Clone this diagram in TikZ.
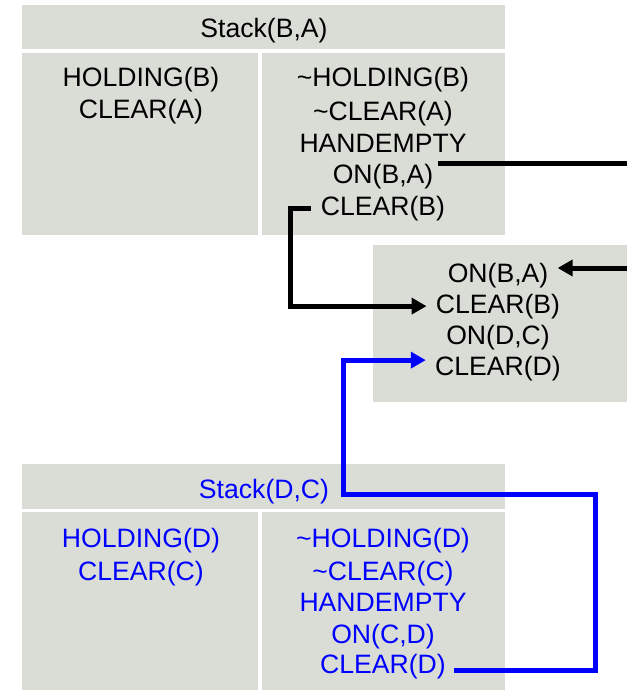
\documentclass[tikz,border=0pt]{standalone}
\usepackage{fontspec}
\setmainfont{Liberation Sans}
\usetikzlibrary{arrows.meta}
\definecolor{cellgray}{RGB}{218,221,214}
\definecolor{planblue}{RGB}{0,0,255}

\begin{document}
\begin{tikzpicture}[
    x=0.5pt, y=-0.5pt,
    box/.style={fill=cellgray, inner sep=0pt},
    fact/.style={anchor=base, inner sep=2pt, font=\fontsize{13.3}{15.75}\selectfont},
    bfact/.style={fact, text=planblue},
    wire/.style={line width=2.5pt},
    link/.style={line width=2.5pt, shorten >=2.5pt,
        -{Triangle[length=7.5pt, width=8pt]}}
]
\useasboundingbox (0,0) rectangle (627,690);
% Stack(B,A)
\node[box, minimum width=241.5pt, minimum height=22pt]  (hdrBA) at (263.5,27)  {};
\node[box, minimum width=118pt,   minimum height=91pt]  (preBA) at (140,144)   {};
\node[box, minimum width=121.5pt, minimum height=91pt]  (effBA) at (383.5,144) {};
\node[fact]  (stackBA) at (264,38)  {Stack(B,A)};
\node[fact]  (holdB)   at (141,87)  {HOLDING(B)};
\node[fact]  (clrA)    at (141,119) {CLEAR(A)};
\node[fact]  (nholdB)  at (383,87)  {\textasciitilde HOLDING(B)};
\node[fact]  (nclrA)   at (383,120) {\textasciitilde CLEAR(A)};
\node[fact]  (hempA)   at (383,152) {HANDEMPTY};
\node[fact]  (onBA)    at (383,183) {ON(B,A)};
\node[fact]  (clrB)    at (383,215) {CLEAR(B)};
% Goal
\node[box, minimum width=127pt, minimum height=78.5pt] (goal) at (500,323.5) {};
\node[fact]  (gonBA)   at (498,282) {ON(B,A)};
\node[fact]  (gclrB)   at (498,313) {CLEAR(B)};
\node[fact]  (gonDC)   at (498,344) {ON(D,C)};
\node[fact]  (gclrD)   at (498,375) {CLEAR(D)};
% Stack(D,C)
\node[box, minimum width=241.5pt, minimum height=22.5pt] (hdrDC) at (263.5,486.5) {};
\node[box, minimum width=118pt,   minimum height=89pt]   (preDC) at (140,601)     {};
\node[box, minimum width=121.5pt, minimum height=89pt]   (effDC) at (383.5,601)   {};
\node[bfact] (stackDC) at (264,498) {Stack(D,C)};
\node[bfact] (holdD)   at (141,547) {HOLDING(D)};
\node[bfact] (clrC)    at (141,580) {CLEAR(C)};
\node[bfact] (nholdD)  at (383,547) {\textasciitilde HOLDING(D)};
\node[bfact] (nclrC)   at (383,580) {\textasciitilde CLEAR(C)};
\node[bfact] (hempC)   at (383,611) {HANDEMPTY};
\node[bfact] (onCD)    at (383,643) {ON(C,D)};
\node[bfact] (clrD)    at (383,673) {CLEAR(D)};
% ON(B,A) links
\coordinate (outBA) at (627,163);
\coordinate (inBA)  at (627,268);
\draw[wire] (onBA.east |- outBA) -- (outBA);
\draw[link] (inBA) -- (gonBA.east |- inBA);
% CLEAR(B) link
\draw[link, shorten <=3pt] (clrB.west) -- ++(-26,0) |- (gclrB.west);
% CLEAR(D) link
\coordinate (bendR) at (595,494);
\coordinate (bendL) at (343,494);
\draw[link, draw=planblue, shorten <=2pt] ([yshift=-2pt]clrD.east) -| (bendR) -- (bendL) |- ([yshift=4pt]gclrD.west);
\end{tikzpicture}
\end{document}
